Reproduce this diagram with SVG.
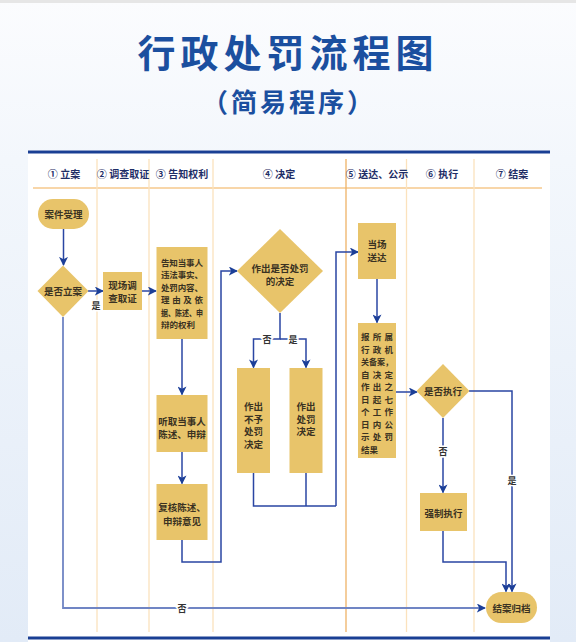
<svg xmlns="http://www.w3.org/2000/svg" width="576" height="642" viewBox="0 0 576 642">
<defs>
<linearGradient id="side" x1="0" y1="0" x2="0" y2="1">
<stop offset="0" stop-color="#fbfcfe"/>
<stop offset="0.25" stop-color="#f3f7fc"/>
<stop offset="1" stop-color="#e2ebf7"/>
</linearGradient>
<marker id="ah" viewBox="0 0 10 10" refX="9" refY="5" markerWidth="9" markerHeight="9" markerUnits="userSpaceOnUse" orient="auto">
<path d="M0,0 L10,5 L0,10 L2.5,5 z" fill="#1c3f98"/>
</marker>
<style>
.bg{fill:url(#side)}
.panel{fill:#ffffff}
.title{font-family:"Noto Sans CJK SC","Noto Sans",sans-serif;font-weight:bold;fill:#1b4f9f;text-anchor:middle}
.hdr{font-family:"Noto Sans CJK SC","Noto Sans",sans-serif;font-weight:bold;font-size:10px;fill:#1e2d66;text-anchor:middle;dominant-baseline:central}
.div{stroke:#fbe2bd;stroke-width:1.3}
.div2{stroke:#efb266;stroke-width:1.3}
.node{fill:#e8c46a}
.nt{font-family:"Noto Sans CJK SC","Noto Sans",sans-serif;font-weight:bold;font-size:9.5px;fill:#3a3222;text-anchor:middle;dominant-baseline:central}
.jt{font-family:"Noto Sans CJK SC","Noto Sans",sans-serif;font-weight:bold;font-size:8.5px;fill:#3a3222;dominant-baseline:central}
.cn{fill:none;stroke:#2a46a3;stroke-width:1.5}
.cl{fill:none;stroke:#7085c4;stroke-width:1.8}
.lb{font-family:"Noto Sans CJK SC","Noto Sans",sans-serif;font-weight:bold;font-size:9px;fill:#333333;text-anchor:middle;dominant-baseline:central;stroke:#ffffff;stroke-width:3;paint-order:stroke}
</style>
</defs>
<rect class="bg" x="0" y="0" width="576" height="642"/>
<rect x="0" y="0" width="576" height="3" fill="#e6e6e6"/>
<rect class="panel" x="28" y="150" width="522" height="492"/>
<text class="title" x="288" y="67" font-size="38" letter-spacing="5">行政处罚流程图</text>
<text class="title" x="289" y="112" font-size="26" letter-spacing="3">（简易程序）</text>

<g id="header">
<rect x="28" y="150.5" width="522" height="3" fill="#1a3f94"/>
<rect x="28" y="636.5" width="522" height="3" fill="#1a3f94"/>
<line x1="33" y1="188" x2="542" y2="188" stroke="#f6c98c" stroke-width="1.3"/>
<line class="div" x1="97" y1="159" x2="97" y2="632"/>
<line class="div" x1="149" y1="159" x2="149" y2="632"/>
<line class="div" x1="213" y1="159" x2="213" y2="632"/>
<line class="div2" x1="346" y1="159" x2="346" y2="632"/>
<line class="div" x1="406.5" y1="159" x2="406.5" y2="632"/>
<line class="div" x1="474" y1="159" x2="474" y2="632"/>
<text class="hdr" x="64" y="173">① 立案</text>
<text class="hdr" x="123" y="173">② 调查取证</text>
<text class="hdr" x="182" y="173">③ 告知权利</text>
<text class="hdr" x="279" y="173">④ 决定</text>
<text class="hdr" x="377" y="173">⑤ 送达、公示</text>
<text class="hdr" x="442" y="173">⑥ 执行</text>
<text class="hdr" x="512" y="173">⑦ 结案</text>
</g>

<g id="connectors">
<path class="cl" d="M63,317 V608 H485" marker-end="url(#ah)"/>
<path class="cn" d="M63.5,229 V265" marker-end="url(#ah)"/>
<path class="cn" d="M88,291 H103" marker-end="url(#ah)"/>
<path class="cn" d="M142,291 H156" marker-end="url(#ah)"/>
<path class="cn" d="M182,339 V394.5" marker-end="url(#ah)"/>
<path class="cn" d="M182,452 V483.5" marker-end="url(#ah)"/>
<path class="cn" d="M182,540 V562 H221 V271 H237" marker-end="url(#ah)"/>
<path class="cn" d="M280,313 V339 H253.5 V367.5" marker-end="url(#ah)"/>
<path class="cn" d="M280,339 H306 V367.5" marker-end="url(#ah)"/>
<path class="cn" d="M253.5,473 V506 H336"/>
<path class="cn" d="M306,473 V506"/>
<path class="cn" d="M336,506 V252 H358" marker-end="url(#ah)"/>
<path class="cn" d="M377,279 V322.5" marker-end="url(#ah)"/>
<path class="cn" d="M396,392 H417" marker-end="url(#ah)"/>
<path class="cn" d="M443,418 V492.5" marker-end="url(#ah)"/>
<path class="cn" d="M469,391 H512 V591.5" marker-end="url(#ah)"/>
<path class="cn" d="M443,531 V562 H506 V591.5" marker-end="url(#ah)"/>
<text class="lb" x="96" y="305">是</text>
<text class="lb" x="267" y="339">否</text>
<text class="lb" x="293" y="339">是</text>
<text class="lb" x="443" y="451">否</text>
<text class="lb" x="512" y="480">是</text>
<text class="lb" x="182" y="608">否</text>
</g>

<g id="n_accept">
<rect class="node" x="38" y="199" width="51" height="30" rx="15"/>
<text class="nt" x="63.5" y="214">案件受理</text>
</g>
<g id="n_file">
<polygon class="node" points="63,265.5 88.5,291 63,317 37.5,291"/>
<text class="nt" x="63" y="291">是否立案</text>
</g>
<g id="n_investigate">
<rect class="node" x="103" y="272" width="39" height="38"/>
<text class="nt" x="122.5" y="285">现场调</text>
<text class="nt" x="122.5" y="298">查取证</text>
</g>
<g id="n_notify">
<rect class="node" x="156.5" y="247" width="51" height="92"/>
<text class="jt" x="161" y="262" textLength="42" lengthAdjust="spacing">告知当事人</text>
<text class="jt" x="161" y="274" textLength="42" lengthAdjust="spacing">违法事实、</text>
<text class="jt" x="161" y="286.5" textLength="42" lengthAdjust="spacing">处罚内容、</text>
<text class="jt" x="161" y="299" textLength="42" lengthAdjust="spacing">理由及依</text>
<text class="jt" x="161" y="311.5" textLength="42" lengthAdjust="spacingAndGlyphs">据、陈述、申</text>
<text class="jt" x="161" y="324">辩的权利</text>
</g>
<g id="n_hear">
<rect class="node" x="156.5" y="395" width="51" height="57"/>
<text class="nt" x="182" y="421">听取当事人</text>
<text class="nt" x="182" y="434">陈述、申辩</text>
</g>
<g id="n_review">
<rect class="node" x="156.5" y="484" width="51" height="56"/>
<text class="nt" x="182" y="507">复核陈述、</text>
<text class="nt" x="182" y="521">申辩意见</text>
</g>
<g id="n_decide">
<polygon class="node" points="280,229 323,271 280,313 237,271"/>
<text class="nt" x="280" y="268">作出是否处罚</text>
<text class="nt" x="280" y="281">的决定</text>
</g>
<g id="n_nopenalty">
<rect class="node" x="237" y="368" width="33" height="105"/>
<text class="nt" x="253.5" y="406">作出</text>
<text class="nt" x="253.5" y="418.5">不予</text>
<text class="nt" x="253.5" y="431">处罚</text>
<text class="nt" x="253.5" y="443.5">决定</text>
</g>
<g id="n_penalty">
<rect class="node" x="289.5" y="368" width="33" height="105"/>
<text class="nt" x="306" y="406">作出</text>
<text class="nt" x="306" y="418.5">处罚</text>
<text class="nt" x="306" y="431">决定</text>
</g>
<g id="n_deliver">
<rect class="node" x="358" y="223" width="38" height="56"/>
<text class="nt" x="377" y="244">当场</text>
<text class="nt" x="377" y="257">送达</text>
</g>
<g id="n_report">
<rect class="node" x="358" y="323" width="38" height="135"/>
<text class="jt" x="361" y="336" textLength="32" lengthAdjust="spacing">报所属</text>
<text class="jt" x="361" y="348.5" textLength="32" lengthAdjust="spacing">行政机</text>
<text class="jt" x="361" y="361" textLength="32" lengthAdjust="spacingAndGlyphs">关备案，</text>
<text class="jt" x="361" y="373.5" textLength="32" lengthAdjust="spacing">自决定</text>
<text class="jt" x="361" y="386" textLength="32" lengthAdjust="spacing">作出之</text>
<text class="jt" x="361" y="398.5" textLength="32" lengthAdjust="spacing">日起七</text>
<text class="jt" x="361" y="411" textLength="32" lengthAdjust="spacing">个工作</text>
<text class="jt" x="361" y="423.5" textLength="32" lengthAdjust="spacing">日内公</text>
<text class="jt" x="361" y="436" textLength="32" lengthAdjust="spacing">示处罚</text>
<text class="jt" x="361" y="448.5">结果</text>
</g>
<g id="n_execute_q">
<polygon class="node" points="443,364 469.5,391 443,418 416.5,391"/>
<text class="nt" x="443" y="391">是否执行</text>
</g>
<g id="n_enforce">
<rect class="node" x="420" y="493" width="47" height="38"/>
<text class="nt" x="443.5" y="513">强制执行</text>
</g>
<g id="n_close">
<rect class="node" x="486" y="592" width="51" height="31" rx="15.5"/>
<text class="nt" x="511.5" y="607.5">结案归档</text>
</g>
</svg>
